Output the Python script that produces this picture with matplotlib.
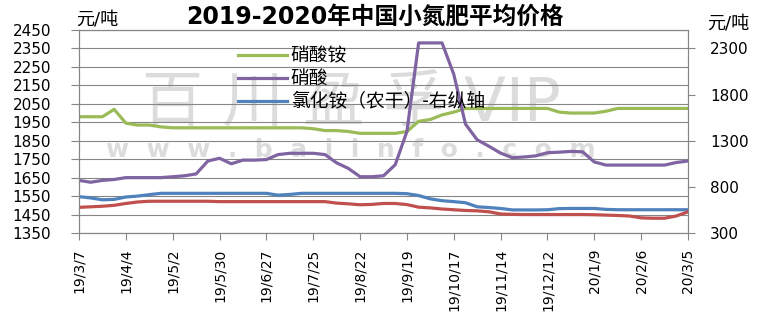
import numpy as np
import pandas as pd
import matplotlib
matplotlib.use('Agg')
import matplotlib.pyplot as plt

plt.rcParams['font.family'] = ['DejaVu Sans', 'Noto Sans CJK SC']

# weekly samples, 2019-03-07 .. 2020-03-05
dates = pd.date_range('2019-03-07', '2020-03-05', freq='7D')

# left axis (元/吨)
xiaosuan_an = [1980, 1980, 1980, 2020, 1945, 1935, 1935, 1925, 1920, 1920,
               1920, 1920, 1920, 1920, 1920, 1920, 1920, 1920, 1920, 1920,
               1915, 1905, 1905, 1900, 1890, 1890, 1890, 1890, 1900, 1955,
               1965, 1990, 2005, 2025, 2025, 2025, 2025, 2025, 2025, 2025,
               2025, 2005, 2000, 2000, 2000, 2010, 2025, 2025, 2025, 2025,
               2025, 2025, 2025]
xiaosuan = [1635, 1625, 1635, 1640, 1650, 1650, 1650, 1650, 1655, 1660,
            1670, 1740, 1755, 1725, 1745, 1745, 1748, 1775, 1782, 1782,
            1782, 1775, 1730, 1700, 1655, 1655, 1660, 1720, 1900, 2380,
            2380, 2380, 2210, 1940, 1855, 1820, 1783, 1758, 1762, 1768,
            1785, 1788, 1792, 1790, 1735, 1718, 1718, 1718, 1718, 1718,
            1718, 1732, 1740]

# right axis (元/吨)
lvhuaan_nonggan = [694, 680, 660, 664, 690, 700, 716, 730,
                   730, 730, 730, 730, 730, 730, 730, 730, 730,
                   710, 718,
                   730, 730, 730, 730, 730, 730, 730, 730,
                   730, 726, 706, 670, 650, 640, 628, 584, 576, 566,
                   550, 550, 550, 552, 564, 566, 566, 566, 556,
                   552, 552, 552, 552, 552, 552, 552]
lvhuaan_other = [578, 584, 590, 600, 620, 636, 644,
                 644, 644, 644, 644, 644,
                 640, 640, 640, 640, 640, 640, 640, 640, 640, 640,
                 624, 616, 606, 610, 620, 620, 608, 580, 572, 560,
                 552, 544, 540, 530, 506, 502,
                 500, 500, 500, 500, 500, 500,
                 498, 494, 490, 484, 464, 460, 460, 484, 530]

left_ticks = np.arange(1350, 2451, 100)
right_ticks = [300, 800, 1300, 1800, 2300]
tick_dates = pd.date_range('2019-03-07', '2020-03-05', freq='28D')
tick_labels = [f"{d.year % 100}/{d.month}/{d.day}" for d in tick_dates]

grey = '#868686'

fig = plt.figure(figsize=(7.8, 3.14), dpi=100)
ax = fig.add_axes([79 / 780, 1 - 233 / 314, 609 / 780, 203 / 314])
ax.set_facecolor('none')
ax2 = ax.twinx()

# watermark
fig.text(0.45, 1 - 105 / 314, '百 川 盈 孚 VIP', fontsize=44, color='#dcdcdc',
         ha='center', va='center', zorder=-1)
fig.text(0.45, 1 - 150 / 314, 'w  w  w  .  b  a  i  i  n  f  o  .  c  o  m',
         fontsize=18, fontweight='bold', color='#dcdcdc', ha='center',
         va='center', zorder=-1)

l1, = ax.plot(dates, xiaosuan_an, color='#9BBB59', lw=2.3, label='硝酸铵')
l2, = ax.plot(dates, xiaosuan, color='#8064A2', lw=2.3, label='硝酸')
l3, = ax2.plot(dates, lvhuaan_nonggan, color='#4F81BD', lw=2.3,
               label='氯化铵（农干）-右纵轴')
ax2.plot(dates, lvhuaan_other, color='#C0504D', lw=2.3)

ax.set_xlim(dates[0], dates[-1])
ax.set_ylim(1350, 2450)
ax.set_yticks(left_ticks)
ax2.set_ylim(300, 2500)
ax2.set_yticks(right_ticks)

ax.set_xticks(tick_dates)
ax.set_xticklabels(tick_labels, rotation=90)

ax.set_axisbelow(True)
ax.yaxis.grid(True, color=grey, lw=0.8)
for a in (ax, ax2):
    for s in a.spines.values():
        s.set_color(grey)
        s.set_linewidth(0.8)

ax.tick_params(axis='y', length=6, color=grey, labelsize=11, pad=14)
ax.tick_params(axis='x', length=5, color=grey, labelsize=10, pad=6)
ax2.tick_params(axis='y', length=5, color=grey, labelsize=11, pad=11)

fig.text(375 / 780, 1 - 17 / 314, '2019-2020年中国小氮肥平均价格',
         ha='center', va='center', fontsize=17, fontweight='bold')
fig.text(97 / 780, 1 - 20 / 314, '元/吨', ha='center', va='center', fontsize=13)
fig.text(728 / 780, 1 - 24 / 314, '元/吨', ha='center', va='center', fontsize=13)

ax2.legend(handles=[l1, l2, l3], loc='upper left', bbox_to_anchor=(0.24, 0.985),
           frameon=False, fontsize=13.5, handlelength=2.6, handletextpad=0.2,
           labelspacing=0.22, borderpad=0.2)

fig.savefig('out.png', dpi=100)
